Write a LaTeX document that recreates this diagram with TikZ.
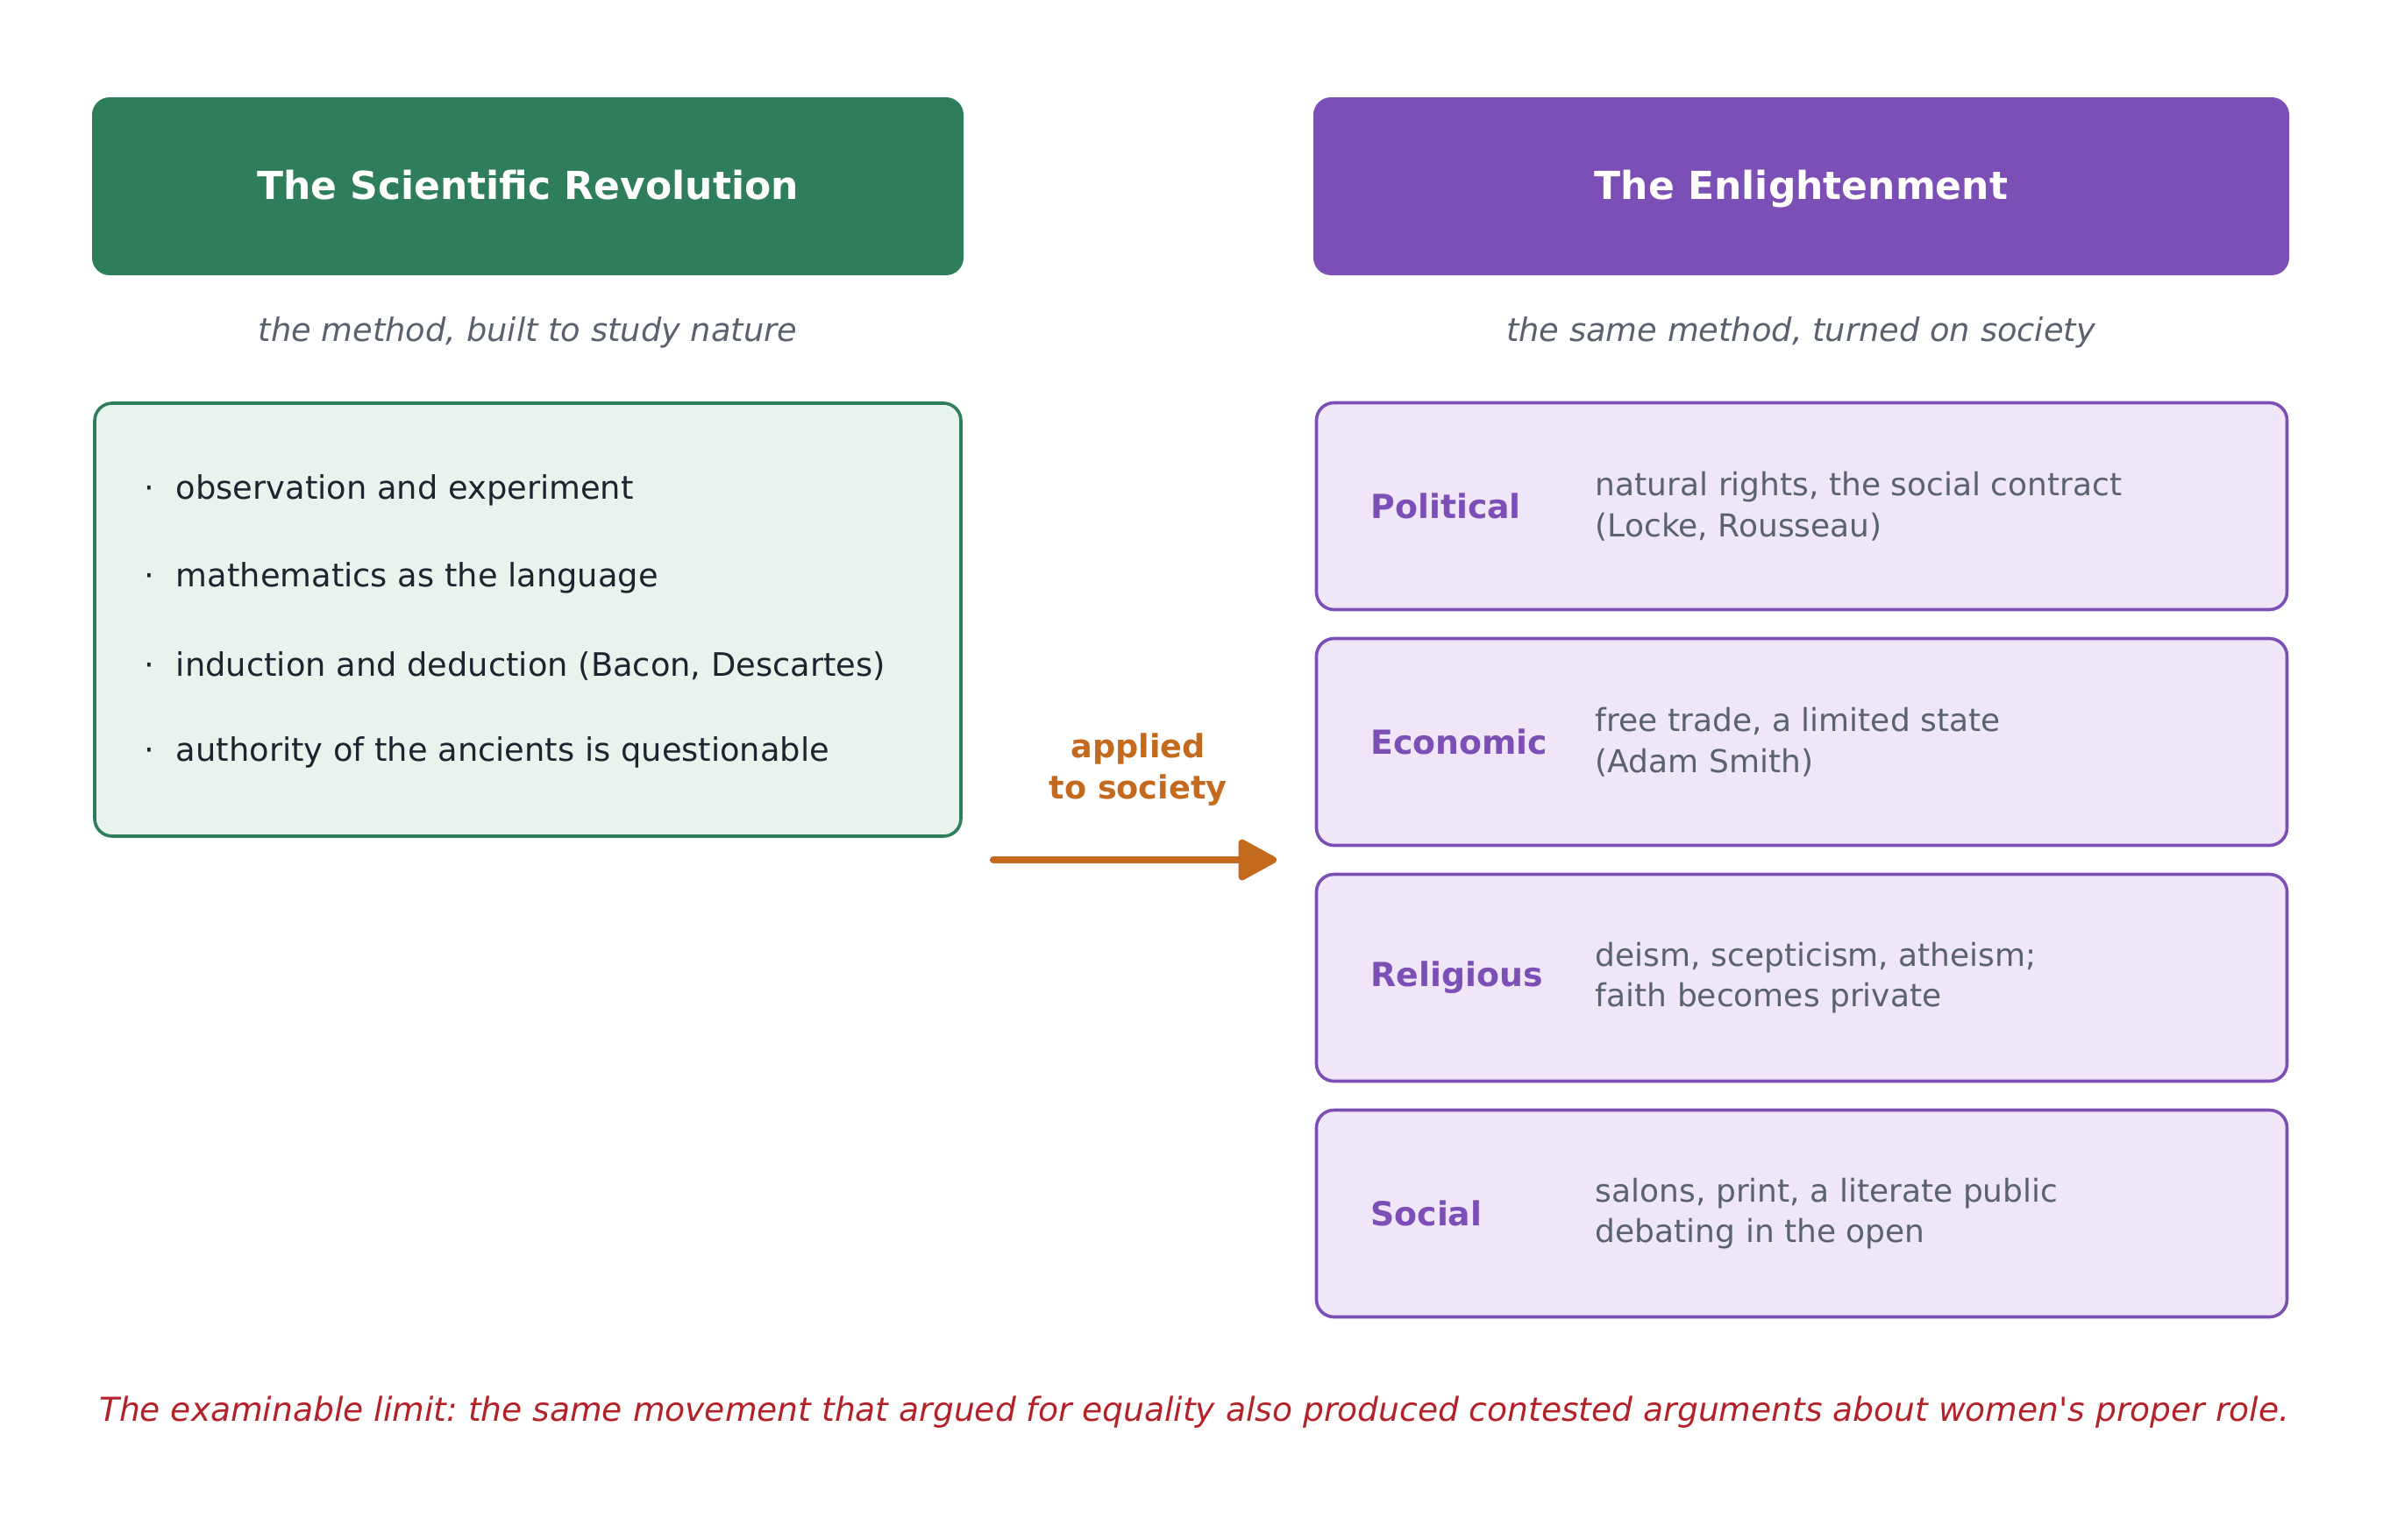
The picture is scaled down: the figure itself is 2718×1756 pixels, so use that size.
\documentclass[tikz,border=0pt]{standalone}
\usepackage{fontspec}
\setmainfont{DejaVu Sans}
\newfontfamily\plainfont{DejaVu Sans}
\usetikzlibrary{arrows.meta}
\definecolor{grn}{HTML}{2E7D5B}
\definecolor{grnfill}{HTML}{E7F3EC}
\definecolor{prp}{HTML}{7B4FB5}
\definecolor{prpfill}{HTML}{EFE6F7}
\definecolor{dark}{HTML}{1C2430}
\definecolor{gry}{HTML}{5A6270}
\definecolor{orng}{HTML}{C46A1E}
\definecolor{redt}{HTML}{B22228}
\frenchspacing
\tikzset{
  header/.style={rounded corners=10pt, inner sep=0pt, minimum height=101.5pt},
  htitle/.style={text=white, font=\fontsize{22}{26}\selectfont\bfseries, inner sep=0pt,
    text height=16.6pt, text depth=5.2pt, yshift=-1.8pt},
  leftbody/.style={draw=grn, fill=grnfill, line width=1.8pt, rounded corners=10pt,
    minimum width=494pt, minimum height=247pt, inner sep=0pt},
  cat/.style={draw=prp, fill=prpfill, line width=1.8pt, rounded corners=10pt,
    minimum width=553.5pt, minimum height=118pt, inner sep=0pt},
  subt/.style={text=gry, font=\fontsize{18.4}{22}\selectfont\itshape, inner sep=0pt},
  txt/.style={text=dark, font=\fontsize{18.4}{22}\selectfont, inner sep=0pt, anchor=west},
  lab/.style={text=prp, font=\fontsize{18.9}{23}\selectfont\bfseries, inner sep=0pt, anchor=west},
  desc/.style={text=gry, font=\fontsize{18}{23.4}\selectfont, inner sep=0pt, anchor=west, align=left},
  arrlab/.style={text=orng, font=\fontsize{18.3}{23.4}\selectfont\bfseries, inner sep=0pt, align=center},
  foot/.style={text=redt, font=\plainfont\fontsize{18.8}{22}\selectfont\itshape, inner sep=0pt},
}
\newcommand{\bdot}{·\hspace{12.4pt}}
\begin{document}
\begin{tikzpicture}[x=0.5pt,y=-0.5pt]
\useasboundingbox[fill=white] (0,0) rectangle (2718,1756);
% headers
\node[header, fill=grn, minimum width=497pt] (hL) at (602,212.5) {};
\node[htitle] (hLt) at (hL.center) {The Scientific Revolution};
\node[header, fill=prp, minimum width=556.5pt] (hR) at (2054.5,212.5) {};
\node[htitle] (hRt) at (hR.center) {The Enlightenment};
% subtitles
\node[subt] (sL) at (602,379.5) {the method, built to study nature};
\node[subt] (sR) at (2054,379.5) {the same method, turned on society};
% left body
\node[leftbody] (body) at (602,707) {};
\node[txt] (t1) at (164,559.5) {\bdot observation and experiment};
\node[txt] (t2) at (164,659.5) {\bdot mathematics as the language};
\node[txt] (t3) at (164,759.5) {\bdot induction and deduction (Bacon, Descartes)};
\node[txt] (t4) at (164,858.5) {\bdot authority of the ancients is questionable};
% right category boxes
\node[cat] (c1) at (2055,577.5) {};
\node[lab] (l1) at (1563,577.5) {Political};
\node[desc] (d1) at (1819.5,577.5) {natural rights, the social contract\\(Locke, Rousseau)};
\node[cat] (c2) at (2055,846.5) {};
\node[lab] (l2) at (1563,846.5) {Economic};
\node[desc] (d2) at (1819.5,846.5) {free trade, a limited state\\(Adam Smith)};
\node[cat] (c3) at (2055,1115.5) {};
\node[lab] (l3) at (1563,1115.5) {Religious};
\node[desc] (d3) at (1819.5,1115.5) {deism, scepticism, atheism;\\faith becomes private};
\node[cat] (c4) at (2055,1384.5) {};
\node[lab] (l4) at (1563,1384.5) {Social};
\node[desc] (d4) at (1819.5,1384.5) {salons, print, a literate public\\debating in the open};
% arrow
\coordinate (aS) at (1133,981);
\coordinate (aE) at (1456,981);
\draw[orng, line width=4pt, line cap=round, -{Triangle[length=24pt,width=25pt,round]}] (aS) -- (aE);
\node[arrlab] (al) at (1298,878) {applied\\to society};
% footer
\node[foot] (ft) at (1362,1611.5) {The examinable limit: the same movement that argued for equality also produced contested arguments about women's proper role.};
\end{tikzpicture}
\end{document}
